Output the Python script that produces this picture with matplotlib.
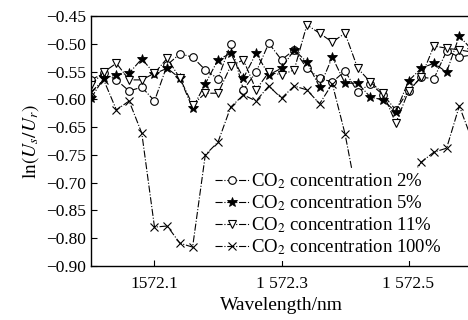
import numpy as np
import matplotlib
matplotlib.use("Agg")
import matplotlib.pyplot as plt

plt.rcParams['font.family'] = ['Liberation Serif', 'DejaVu Serif']
plt.rcParams['mathtext.fontset'] = 'stix'

wavelength = [1572.00 + 0.02 * i for i in range(31)]

c2 = [-0.565, -0.553, -0.565, -0.585, -0.578, -0.603, -0.538, -0.518, -0.524, -0.547,
      -0.563, -0.500, -0.583, -0.551, -0.499, -0.529, -0.511, -0.544, -0.562, -0.569,
      -0.549, -0.587, -0.572, -0.592, -0.619, -0.585, -0.560, -0.563, -0.513, -0.524, -0.520]
c5 = [-0.598, -0.562, -0.556, -0.553, -0.527, -0.554, -0.544, -0.562, -0.616, -0.572,
      -0.529, -0.517, -0.562, -0.517, -0.556, -0.544, -0.511, -0.533, -0.578, -0.524,
      -0.571, -0.571, -0.596, -0.601, -0.623, -0.567, -0.544, -0.535, -0.551, -0.486, -0.511]
c11 = [-0.574, -0.551, -0.535, -0.565, -0.565, -0.553, -0.526, -0.562, -0.610, -0.589,
       -0.589, -0.540, -0.529, -0.583, -0.551, -0.556, -0.547, -0.466, -0.481, -0.497,
       -0.481, -0.544, -0.569, -0.589, -0.643, -0.585, -0.560, -0.504, -0.508, -0.511, -0.515]
c100 = [-0.587, -0.565, -0.619, -0.603, -0.661, -0.830, -0.828, -0.859, -0.866, -0.700,
        -0.677, -0.614, -0.592, -0.603, -0.576, -0.598, -0.576, -0.583, -0.608, -0.572,
        -0.662, -0.781, -0.844, -0.853, -0.826, -0.754, -0.713, -0.695, -0.688, -0.612, -0.673]

labels = ['CO$_2$ concentration 2%', 'CO$_2$ concentration 5%',
          'CO$_2$ concentration 11%', 'CO$_2$ concentration 100%']

yticks = [-0.45, -0.50, -0.55, -0.60, -0.65, -0.70, -0.75, -0.80, -0.85, -0.90]
ytick_labels = ['\u22120.45', '\u22120.50', '\u22120.55', '\u22120.60', '\u22120.65',
                '\u22120.75', '\u22120.70', '\u22120.85', '\u22120.80', '\u22120.90']
xticks = [1572.1, 1572.3, 1572.5]
xtick_labels = ['1572.1', '1 572.3', '1 572.5']

fig = plt.figure(figsize=(4.68, 3.2), dpi=100)
ax = fig.add_axes([91/468, 1 - 266/320, 381/468, 250/320])

common = dict(color='black', linestyle='-.', linewidth=0.8)
ax.plot(wavelength, c2, marker='o', markersize=5.5, markerfacecolor='white',
        markeredgewidth=0.8, label=labels[0], **common)
ax.plot(wavelength, c5, marker='*', markersize=7, markerfacecolor='black',
        markeredgewidth=0.6, label=labels[1], **common)
ax.plot(wavelength, c11, marker='v', markersize=6, markerfacecolor='white',
        markeredgewidth=0.8, label=labels[2], **common)
ax.plot(wavelength, c100, marker='x', markersize=5.5, markeredgewidth=0.8,
        label=labels[3], **common)

ax.set_xlim(1572.0, 1572.6)
ax.set_ylim(-0.90, -0.45)
ax.set_xticks(xticks)
ax.set_xticklabels(xtick_labels)
ax.set_yticks(yticks)
ax.set_yticklabels(ytick_labels)
ax.tick_params(direction='in', length=4, width=0.8, labelsize=12.5)
ax.tick_params(axis='x', pad=7)
for s in ax.spines.values():
    s.set_linewidth(1.0)

ax.set_xlabel('Wavelength/nm', fontsize=14, labelpad=4)
ax.set_ylabel(r'$\ln(U_s/U_r)$', fontsize=14, labelpad=4)

leg = ax.legend(loc='lower left', bbox_to_anchor=(211/468, 1 - 261/320),
                bbox_transform=fig.transFigure, fontsize=13.5, frameon=True,
                handlelength=1.8, handletextpad=0.15, labelspacing=0.12,
                borderpad=0.2, borderaxespad=0, fancybox=False)
leg.get_frame().set_edgecolor('none')
leg.get_frame().set_facecolor('white')
leg.get_frame().set_alpha(1.0)

fig.savefig('out.png', dpi=100)
